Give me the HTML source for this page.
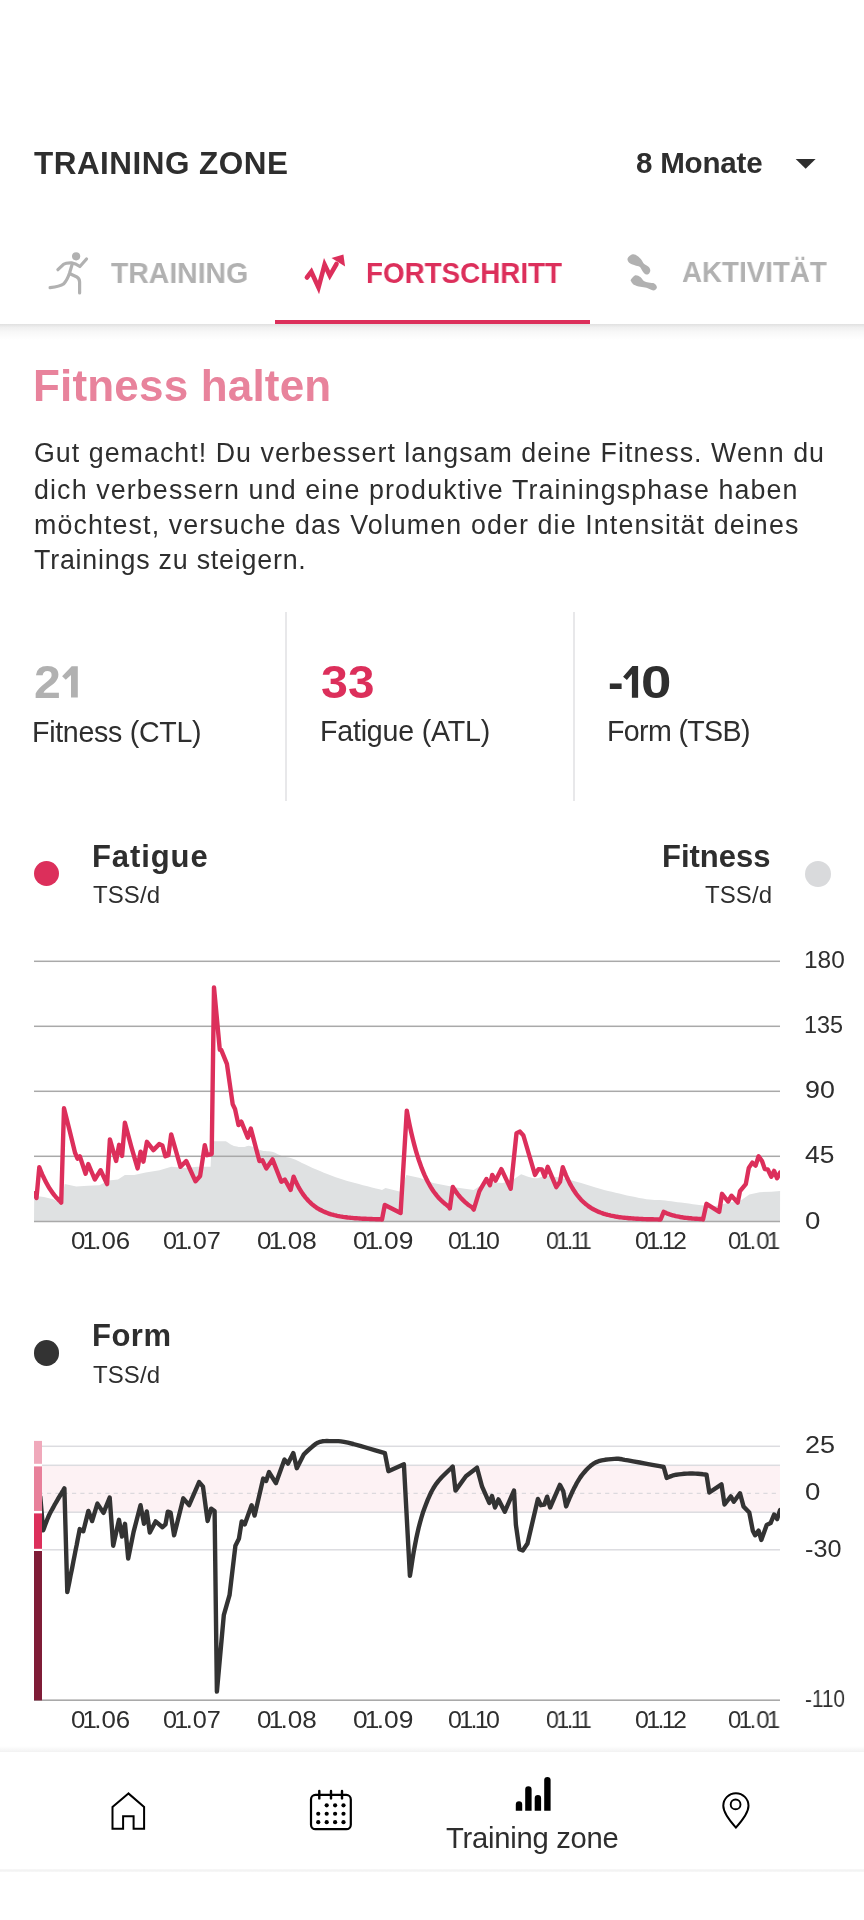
<!DOCTYPE html>
<html><head><meta charset="utf-8"><style>
html,body{margin:0;padding:0;background:#fff;}
body{width:864px;height:1920px;position:relative;overflow:hidden;font-family:"Liberation Sans",sans-serif;}
.t{position:absolute;white-space:nowrap;line-height:1;will-change:transform;}
svg{position:absolute;left:0;top:0;}
</style></head><body>
<div class="t" style="left:34.3px;top:148.4px;font-size:31.45px;letter-spacing:0.49px;font-weight:bold;color:#2e2e2e;">TRAINING ZONE</div>
<div class="t" style="left:636.4px;top:148.1px;font-size:29.57px;letter-spacing:-0.22px;font-weight:bold;color:#2e2e2e;">8 Monate</div>
<div class="t" style="left:111.41px;top:257.83px;font-size:29.5px;font-weight:bold;color:#b1b1b1;transform:scaleX(0.9616);transform-origin:0 0">TRAINING</div>
<div class="t" style="left:366.41px;top:257.53px;font-size:29.5px;font-weight:bold;color:#dc2f5b;transform:scaleX(0.9420);transform-origin:0 0">FORTSCHRITT</div>
<div class="t" style="left:682.41px;top:257.03px;font-size:29.5px;font-weight:bold;color:#b1b1b1;transform:scaleX(0.9400);transform-origin:0 0">AKTIVITÄT</div>
<div class="t" style="left:33.06px;top:363.754px;font-size:44px;letter-spacing:0.18px;font-weight:bold;color:#e8839c;">Fitness halten</div>
<div class="t" style="left:34px;top:439.9px;font-size:26.8px;letter-spacing:1.03px;color:#2e2e2e">Gut gemacht! Du verbessert langsam deine Fitness. Wenn du</div>
<div class="t" style="left:34px;top:476.7px;font-size:26.8px;letter-spacing:1.125px;color:#2e2e2e">dich verbessern und eine produktive Trainingsphase haben</div>
<div class="t" style="left:34px;top:512.1px;font-size:26.8px;letter-spacing:1.12px;color:#2e2e2e">möchtest, versuche das Volumen oder die Intensität deines</div>
<div class="t" style="left:34px;top:546.7px;font-size:26.8px;letter-spacing:0.79px;color:#2e2e2e">Trainings zu steigern.</div>
<div class="t" style="left:33.75px;top:658.52px;font-size:46.4px;font-weight:bold;color:#b1b1b1;transform:scaleX(1.040);transform-origin:0 0">2</div>
<div class="t" style="left:320.93px;top:658.62px;font-size:46.4px;font-weight:bold;color:#dc2f5b;transform:scaleX(1.043);transform-origin:0 0">3</div>
<div class="t" style="left:348.45px;top:658.62px;font-size:46.4px;font-weight:bold;color:#dc2f5b;transform:scaleX(1.026);transform-origin:0 0">3</div>
<div class="t" style="left:608.20px;top:658.72px;font-size:46.4px;font-weight:bold;color:#2e2e2e;transform:scaleX(0.970);transform-origin:0 0">-</div>
<div class="t" style="left:640.61px;top:658.72px;font-size:46.4px;font-weight:bold;color:#2e2e2e;transform:scaleX(1.180);transform-origin:0 0">0</div>
<svg width="864" height="1920" viewBox="0 0 864 1920" style="position:absolute;left:0;top:0"><polygon points="71.7,666.25 77.8,666.25 77.8,697.5 71,697.5 71,674.9 65.8,679.8 62.1,676.3" fill="#b1b1b1"/><polygon points="632.4,666 638.1,666 638.1,697.7 631.9,697.7 631.9,673.9 626.9,679.9 623.1,676.7" fill="#2e2e2e"/></svg>
<div class="t" style="left:32.312px;top:717.7901px;font-size:28.6px;letter-spacing:-0.3px;font-weight:normal;color:#2e2e2e;">Fitness (CTL)</div>
<div class="t" style="left:319.712px;top:717.3901000000001px;font-size:28.6px;letter-spacing:-0.2px;font-weight:normal;color:#2e2e2e;">Fatigue (ATL)</div>
<div class="t" style="left:607.412px;top:717.3901000000001px;font-size:28.6px;letter-spacing:-0.65px;font-weight:normal;color:#2e2e2e;">Form (TSB)</div>
<div style="position:absolute;left:285px;top:612px;width:2px;height:189px;background:#e8e8ea"></div>
<div style="position:absolute;left:573px;top:612px;width:2px;height:189px;background:#e8e8ea"></div>
<div style="position:absolute;left:33.5px;top:860.5px;width:25.5px;height:25.5px;border-radius:50%;background:#dc2f5b"></div>
<div class="t" style="left:91.63px;top:841.4585000000001px;font-size:31px;letter-spacing:0.9px;font-weight:bold;color:#2e2e2e;">Fatigue</div>
<div class="t" style="left:93.32px;top:883.4839999999999px;font-size:24px;letter-spacing:0.1px;font-weight:normal;color:#2e2e2e;">TSS/d</div>
<div style="position:absolute;left:804.5px;top:860.5px;width:26px;height:26px;border-radius:50%;background:#d9dadc"></div>
<div class="t" style="left:661.63px;top:841.1585px;font-size:31px;letter-spacing:0.0px;font-weight:bold;color:#2e2e2e;">Fitness</div>
<div class="t" style="left:704.52px;top:883.4839999999999px;font-size:24px;letter-spacing:0.1px;font-weight:normal;color:#2e2e2e;">TSS/d</div>
<div style="position:absolute;left:33.5px;top:1340px;width:25.5px;height:25.5px;border-radius:50%;background:#333"></div>
<div class="t" style="left:91.63px;top:1320.1585px;font-size:31px;letter-spacing:0.5px;font-weight:bold;color:#2e2e2e;">Form</div>
<div class="t" style="left:93.32px;top:1362.884px;font-size:24px;letter-spacing:0.1px;font-weight:normal;color:#2e2e2e;">TSS/d</div>
<svg width="864" height="1920" viewBox="0 0 864 1920"><defs><clipPath id="c1"><rect x="34" y="900" width="746" height="330"/></clipPath><clipPath id="c2"><rect x="42" y="1400" width="738" height="310"/></clipPath></defs>
<polygon points="34.0,1221.5 34.2,1195.7 43.9,1196.9 53.1,1199.2 61.2,1203.3 64.7,1184.1 76.3,1186.4 87.9,1185.7 99.4,1185.3 108.7,1180.6 118.0,1179.5 124.9,1174.9 134.2,1174.9 145.7,1172.5 159.6,1170.2 171.2,1166.8 187.4,1167.9 196.7,1166.8 210.6,1166.8 211.7,1141.3 225.8,1141.3 226.7,1141.8 227.9,1142.6 229.3,1143.5 230.8,1144.4 232.4,1145.3 233.9,1145.9 235.4,1146.3 237.0,1146.6 238.6,1146.9 240.2,1147.0 241.7,1147.1 243.1,1147.1 244.3,1147.0 245.4,1146.7 246.4,1146.3 247.5,1146.0 248.7,1145.8 250.1,1145.9 251.8,1146.4 253.7,1147.2 255.7,1148.1 257.8,1149.1 259.8,1150.0 261.7,1150.6 263.5,1151.0 265.3,1151.1 267.0,1151.2 268.7,1151.2 270.4,1151.4 272.1,1151.7 273.8,1152.3 275.6,1153.1 277.3,1153.9 279.0,1154.8 280.8,1155.6 282.5,1156.3 284.1,1156.7 285.6,1157.0 287.1,1157.2 288.7,1157.5 290.6,1157.9 292.9,1158.7 295.6,1159.8 298.7,1161.3 302.0,1162.9 305.4,1164.6 309.0,1166.3 312.6,1167.9 316.3,1169.5 320.0,1171.1 323.9,1172.7 327.9,1174.3 331.8,1175.8 335.7,1177.2 339.6,1178.5 343.4,1179.7 347.3,1180.9 351.2,1182.0 355.0,1183.0 358.9,1184.1 363.0,1185.2 367.5,1186.3 371.9,1187.4 376.0,1188.4 379.5,1189.3 382.0,1189.9 385.5,1188.1 400.6,1191.8 406.3,1174.9 420.0,1178.0 433.1,1183.0 456.3,1187.6 473.7,1189.9 486.4,1181.8 502.6,1183.0 511.9,1180.6 521.1,1174.2 522.6,1174.7 524.7,1175.5 527.2,1176.4 529.9,1177.3 532.5,1177.9 535.0,1178.3 537.2,1178.2 539.3,1177.8 541.4,1177.1 543.6,1176.5 546.1,1176.1 548.9,1176.0 552.2,1176.3 555.7,1176.9 559.6,1177.6 563.6,1178.5 567.8,1179.5 572.0,1180.6 576.4,1181.8 581.2,1183.1 586.0,1184.6 590.8,1186.1 595.6,1187.5 600.0,1188.8 604.1,1189.9 608.1,1190.9 611.9,1191.8 615.6,1192.8 619.3,1193.6 623.1,1194.5 627.0,1195.4 631.1,1196.3 635.1,1197.1 639.1,1197.9 642.8,1198.6 646.3,1199.2 649.4,1199.6 652.1,1199.8 654.7,1199.9 657.2,1200.0 659.7,1200.1 662.5,1200.3 665.4,1200.6 668.3,1201.0 671.3,1201.3 674.4,1201.7 677.6,1202.2 681.0,1202.6 684.7,1203.1 688.8,1203.6 693.0,1204.2 697.2,1204.8 701.0,1205.2 704.2,1205.6 706.9,1205.8 709.3,1206.0 711.4,1206.0 713.2,1206.1 714.6,1206.1 715.7,1206.1 729.6,1202.6 741.2,1200.3 749.3,1194.5 759.7,1192.2 771.3,1191.8 780.1,1191.1 780.0,1221.5" fill="#dfe1e2"/>
<rect x="34" y="960.55" width="746" height="1.5" fill="#a9a9a9"/>
<rect x="34" y="1025.55" width="746" height="1.5" fill="#a9a9a9"/>
<rect x="34" y="1090.55" width="746" height="1.5" fill="#a9a9a9"/>
<rect x="34" y="1155.55" width="746" height="1.5" fill="#a9a9a9"/>
<rect x="34" y="1220.75" width="746" height="1.5" fill="#a9a9a9"/>
<polyline clip-path="url(#c1)" points="34.2,1193.4 36.5,1198.0 39.3,1167.2 40.8,1171.0 42.3,1174.6 43.8,1177.8 45.3,1180.9 46.8,1183.7 48.3,1186.3 49.8,1188.8 51.3,1191.0 52.8,1193.1 54.3,1195.1 55.8,1196.9 57.3,1198.5 58.8,1200.1 60.3,1201.5 61.2,1202.6 64.0,1108.2 69.4,1129.7 75.1,1152.9 77.5,1158.7 79.8,1156.3 85.6,1173.7 88.3,1164.0 94.8,1179.5 100.6,1170.2 107.1,1184.1 109.9,1139.4 116.1,1161.0 119.1,1144.8 122.1,1155.9 124.9,1122.8 131.4,1147.1 137.6,1168.4 140.6,1151.7 143.4,1161.7 146.9,1141.8 153.4,1150.1 159.2,1144.1 162.4,1145.5 165.4,1156.3 168.4,1155.2 171.2,1134.4 180.5,1166.8 186.2,1161.0 195.5,1181.3 200.1,1176.0 204.8,1145.2 207.1,1155.2 211.7,1154.0 214.0,987.4 219.8,1049.9 221.2,1049.9 226.9,1063.8 232.7,1104.3 235.0,1108.9 238.5,1125.1 241.3,1121.6 247.8,1137.8 250.8,1128.6 259.4,1161.0 262.4,1160.3 266.3,1168.4 272.5,1159.4 281.3,1181.8 284.8,1179.5 290.6,1189.9 293.6,1176.7 295.1,1180.1 296.6,1183.3 298.1,1186.2 299.6,1188.9 301.1,1191.3 302.6,1193.6 304.1,1195.7 305.6,1197.6 307.1,1199.3 308.6,1201.0 310.1,1202.4 311.6,1203.8 313.1,1205.1 314.6,1206.2 316.1,1207.3 317.6,1208.3 319.1,1209.2 320.6,1210.0 322.1,1210.8 323.6,1211.5 325.1,1212.1 326.6,1212.7 328.1,1213.3 329.6,1213.8 331.1,1214.3 332.6,1214.7 334.1,1215.1 335.6,1215.4 337.1,1215.8 338.6,1216.1 340.1,1216.4 341.6,1216.6 343.1,1216.9 344.6,1217.1 346.1,1217.3 347.6,1217.5 349.1,1217.6 350.6,1217.8 352.1,1217.9 353.6,1218.1 355.1,1218.2 356.6,1218.3 358.1,1218.4 359.6,1218.5 361.1,1218.6 362.6,1218.7 364.1,1218.7 365.6,1218.8 367.1,1218.9 368.6,1218.9 370.1,1219.0 371.6,1219.0 373.1,1219.1 374.6,1219.1 376.1,1219.2 377.6,1219.2 379.1,1219.2 380.6,1219.3 382.0,1219.5 384.8,1205.0 400.6,1213.0 406.8,1110.7 408.3,1118.6 409.8,1125.9 411.3,1132.7 412.8,1139.0 414.3,1144.9 415.8,1150.3 417.3,1155.3 418.8,1160.0 420.3,1164.3 421.8,1168.4 423.3,1172.1 424.8,1175.6 426.3,1178.8 427.8,1181.8 429.3,1184.5 430.8,1187.1 432.3,1189.5 433.8,1191.7 435.3,1193.7 436.8,1195.6 438.3,1197.4 439.8,1199.0 441.3,1200.5 442.8,1201.9 444.3,1203.2 445.8,1204.4 447.3,1205.6 448.8,1206.6 449.8,1208.4 452.8,1186.9 454.3,1189.3 455.8,1191.5 457.3,1193.6 458.8,1195.5 460.3,1197.3 461.8,1198.9 463.3,1200.4 464.8,1201.8 466.3,1203.1 467.8,1204.4 469.3,1205.5 470.8,1206.5 472.3,1207.5 473.7,1209.6 479.4,1191.1 486.4,1179.0 489.9,1185.3 492.2,1174.9 495.6,1180.6 501.4,1169.1 510.7,1188.8 516.5,1133.2 520.0,1131.6 523.4,1135.5 535.0,1174.9 538.5,1169.1 541.9,1169.5 544.7,1176.7 547.7,1166.8 556.3,1187.1 560.0,1181.8 562.8,1167.2 564.3,1171.2 565.8,1174.9 567.3,1178.3 568.8,1181.4 570.3,1184.4 571.8,1187.0 573.3,1189.5 574.8,1191.8 576.3,1194.0 577.8,1195.9 579.3,1197.7 580.8,1199.4 582.3,1201.0 583.8,1202.4 585.3,1203.7 586.8,1204.9 588.3,1206.1 589.8,1207.1 591.3,1208.1 592.8,1209.0 594.3,1209.8 595.8,1210.5 597.3,1211.2 598.8,1211.9 600.3,1212.5 601.8,1213.0 603.3,1213.6 604.8,1214.0 606.3,1214.5 607.8,1214.9 609.3,1215.2 610.8,1215.6 612.3,1215.9 613.8,1216.2 615.3,1216.5 616.8,1216.7 618.3,1217.0 619.8,1217.2 621.3,1217.4 622.8,1217.6 624.3,1217.7 625.8,1217.9 627.3,1218.0 628.8,1218.2 630.3,1218.3 631.8,1218.4 633.3,1218.5 634.8,1218.6 636.3,1218.7 637.8,1218.8 639.3,1218.9 640.8,1218.9 642.3,1219.0 643.8,1219.1 645.3,1219.1 646.8,1219.2 648.3,1219.2 649.8,1219.3 651.3,1219.3 652.8,1219.3 654.3,1219.4 655.8,1219.4 657.3,1219.4 658.8,1219.5 660.6,1219.5 663.7,1211.9 665.2,1212.6 666.7,1213.3 668.2,1213.8 669.7,1214.4 671.2,1214.9 672.7,1215.3 674.2,1215.7 675.7,1216.1 677.2,1216.4 678.7,1216.7 680.2,1217.0 681.7,1217.2 683.2,1217.5 684.7,1217.7 686.2,1217.9 687.7,1218.0 689.2,1218.2 690.7,1218.3 692.2,1218.5 693.7,1218.6 695.2,1218.7 696.7,1218.8 698.2,1218.9 699.7,1219.0 701.2,1219.0 703.0,1219.5 706.5,1203.8 719.2,1211.9 722.0,1193.8 728.0,1201.5 731.5,1195.7 737.7,1202.6 740.0,1191.1 745.8,1184.1 748.8,1167.9 752.3,1162.6 755.6,1165.6 758.6,1156.3 762.0,1161.0 764.8,1169.1 767.8,1169.5 771.3,1176.7 774.1,1170.9 777.1,1178.3 780.1,1172.5" fill="none" stroke="#dc2f5b" stroke-width="4.4" stroke-linejoin="round" stroke-linecap="round"/>
<rect x="42" y="1465.3" width="738" height="47" fill="#fdf2f4"/>
<rect x="42" y="1445.55" width="738" height="1.5" fill="#dcdce0"/>
<rect x="42" y="1464.55" width="738" height="1.5" fill="#dcdce0"/>
<rect x="42" y="1511.45" width="738" height="1.5" fill="#dcdce0"/>
<rect x="42" y="1549.05" width="738" height="1.5" fill="#dcdce0"/>
<line x1="42" y1="1493.4" x2="780" y2="1493.4" stroke="#dcd9dd" stroke-width="1.4" stroke-dasharray="4.2,4.13" stroke-dashoffset="3.33"/>
<rect x="34" y="1699.4" width="746" height="1.6" fill="#a9a9a9"/>
<rect x="34" y="1440.9" width="8" height="22.9" fill="#f0a9bb"/>
<rect x="34" y="1466.4" width="8" height="44.5" fill="#e8809a"/>
<rect x="34" y="1513.4" width="8" height="35.4" fill="#dc2f5b"/>
<rect x="34" y="1551" width="8" height="149.4" fill="#7f1c37"/>
<polyline clip-path="url(#c2)" points="40.3,1497.0 43.2,1530.3 43.8,1528.8 44.6,1526.6 45.5,1524.1 46.5,1521.4 47.5,1518.8 48.5,1516.5 49.4,1514.5 50.3,1512.7 51.2,1511.0 52.2,1509.3 53.1,1507.7 54.0,1506.0 54.9,1504.3 55.9,1502.7 56.8,1501.1 57.7,1499.5 58.6,1498.0 59.5,1496.5 60.4,1495.0 61.4,1493.4 62.3,1491.8 63.2,1490.4 63.9,1489.2 64.4,1488.3 67.3,1592.1 68.1,1588.0 69.3,1582.2 70.6,1575.4 72.1,1568.2 73.4,1561.3 74.6,1555.4 75.6,1550.1 76.7,1544.9 77.6,1540.0 78.5,1535.5 79.2,1531.8 79.7,1529.1 83.3,1531.3 88.4,1510.9 92.1,1521.1 97.4,1503.6 103.5,1512.9 109.7,1497.6 113.2,1545.7 119.0,1519.8 122.0,1536.5 125.0,1523.8 128.2,1558.5 133.6,1531.9 140.5,1505.2 144.0,1523.8 146.8,1511.5 149.8,1532.5 155.6,1521.4 162.5,1527.2 165.5,1524.4 167.8,1511.7 170.6,1512.6 174.1,1535.3 183.3,1498.3 189.1,1505.2 199.1,1482.1 203.0,1486.7 207.6,1521.0 211.1,1508.7 214.6,1511.0 216.9,1691.6 223.8,1615.2 229.6,1594.8 235.4,1545.7 238.9,1538.8 241.7,1521.4 244.7,1524.4 251.6,1505.2 254.6,1515.6 263.2,1478.6 266.2,1480.9 269.0,1472.1 275.9,1483.2 284.5,1459.6 288.0,1463.6 293.3,1453.1 296.8,1468.2 303.9,1454.3 305.4,1452.9 307.5,1450.9 310.0,1448.6 312.7,1446.3 315.3,1444.2 317.8,1442.7 320.1,1441.8 322.3,1441.3 324.6,1441.1 326.9,1441.0 329.3,1441.1 331.7,1441.1 334.0,1441.1 336.2,1441.1 338.4,1441.1 340.9,1441.4 344.0,1441.9 347.9,1442.7 353.3,1444.0 360.1,1445.9 367.4,1448.0 374.5,1450.1 380.6,1451.9 384.9,1453.1 388.4,1471.2 403.9,1464.3 409.9,1575.8 410.6,1571.7 411.5,1566.0 412.5,1559.2 413.7,1552.0 415.0,1545.0 416.2,1538.8 417.4,1533.3 418.6,1528.0 419.9,1523.0 421.3,1518.0 422.7,1513.3 424.3,1508.7 426.0,1504.2 427.7,1499.9 429.5,1495.8 431.4,1491.8 433.5,1488.0 435.8,1484.4 438.5,1480.9 441.7,1477.3 445.0,1474.0 448.1,1471.0 450.8,1468.5 452.7,1466.6 455.5,1490.6 465.9,1476.3 477.0,1467.7 482.1,1486.7 489.3,1502.9 492.0,1496.0 495.0,1507.5 498.5,1499.4 504.8,1511.7 514.0,1490.6 515.9,1524.9 519.4,1549.2 522.8,1550.4 527.5,1543.4 537.9,1499.0 540.9,1505.2 544.4,1504.5 547.1,1496.7 550.1,1507.5 559.9,1484.9 563.3,1491.3 566.1,1506.4 566.8,1504.8 567.7,1502.5 568.8,1499.9 570.0,1497.0 571.3,1494.1 572.6,1491.3 573.9,1488.6 575.3,1485.9 576.8,1483.0 578.4,1480.3 580.1,1477.6 581.9,1475.1 583.9,1472.7 586.0,1470.3 588.2,1468.0 590.6,1465.8 593.1,1463.9 595.7,1462.4 598.6,1461.2 601.7,1460.4 605.0,1459.8 608.3,1459.4 611.4,1459.1 614.3,1458.9 616.6,1458.8 618.4,1458.8 620.1,1459.0 622.1,1459.3 624.6,1459.8 628.1,1460.4 633.2,1461.3 639.7,1462.5 646.8,1463.8 653.7,1465.1 659.6,1466.2 663.7,1467.0 666.7,1477.9 667.7,1477.5 669.0,1477.0 670.5,1476.4 672.3,1475.7 674.3,1475.2 676.4,1474.7 678.8,1474.4 681.4,1474.1 684.2,1473.8 687.1,1473.6 690.0,1473.5 692.6,1473.5 695.2,1473.6 697.9,1473.8 700.6,1474.0 703.0,1474.3 705.0,1474.5 706.5,1474.7 709.3,1492.5 721.5,1484.4 724.5,1504.5 730.8,1496.4 733.8,1501.8 740.0,1493.2 743.5,1506.4 749.3,1512.6 752.8,1530.7 755.1,1535.3 758.6,1530.7 761.3,1540.0 766.7,1524.9 770.6,1523.1 774.1,1514.5 777.1,1519.1 780.1,1509.9" fill="none" stroke="#333" stroke-width="4.4" stroke-linejoin="round" stroke-linecap="round"/>
</svg>
<div class="t" style="left:803.80px;top:949.39px;font-size:23.4px;transform:scaleX(1.0452);transform-origin:0 0;color:#2e2e2e">180</div>
<div class="t" style="left:803.80px;top:1014.39px;font-size:23.4px;transform:scaleX(0.9916);transform-origin:0 0;color:#2e2e2e">135</div>
<div class="t" style="left:805.40px;top:1079.39px;font-size:23.4px;transform:scaleX(1.1461);transform-origin:0 0;color:#2e2e2e">90</div>
<div class="t" style="left:804.80px;top:1144.39px;font-size:23.4px;transform:scaleX(1.1263);transform-origin:0 0;color:#2e2e2e">45</div>
<div class="t" style="left:805.40px;top:1209.59px;font-size:23.4px;transform:scaleX(1.1818);transform-origin:0 0;color:#2e2e2e">0</div>
<div class="t" style="left:804.80px;top:1434.39px;font-size:23.4px;transform:scaleX(1.1542);transform-origin:0 0;color:#2e2e2e">25</div>
<div class="t" style="left:805.40px;top:1481.39px;font-size:23.4px;transform:scaleX(1.1818);transform-origin:0 0;color:#2e2e2e">0</div>
<div class="t" style="left:804.80px;top:1537.89px;font-size:23.4px;transform:scaleX(1.0783);transform-origin:0 0;color:#2e2e2e">-30</div>
<div class="t" style="left:804.80px;top:1688.09px;font-size:23.4px;transform:scaleX(0.8885);transform-origin:0 0;color:#2e2e2e">-110</div>
<div class="t" style="left:71.03px;top:1228.7px;font-size:24.2px;transform:scaleX(1.0698);transform-origin:0 0;color:#2e2e2e">0<span style="margin:0 -2.6px">1</span>.06</div>
<div class="t" style="left:162.83px;top:1228.7px;font-size:24.2px;transform:scaleX(1.0453);transform-origin:0 0;color:#2e2e2e">0<span style="margin:0 -2.6px">1</span>.07</div>
<div class="t" style="left:257.03px;top:1228.7px;font-size:24.2px;transform:scaleX(1.0793);transform-origin:0 0;color:#2e2e2e">0<span style="margin:0 -2.6px">1</span>.08</div>
<div class="t" style="left:353.03px;top:1228.7px;font-size:24.2px;transform:scaleX(1.0898);transform-origin:0 0;color:#2e2e2e">0<span style="margin:0 -2.6px">1</span>.09</div>
<div class="t" style="left:448.03px;top:1228.7px;font-size:24.2px;transform:scaleX(1.0335);transform-origin:0 0;color:#2e2e2e">0<span style="margin:0 -2.6px">1</span>.<span style="margin:0 -2.6px">1</span>0</div>
<div class="t" style="left:546.43px;top:1228.7px;font-size:24.2px;transform:scaleX(0.9589);transform-origin:0 0;color:#2e2e2e">0<span style="margin:0 -2.6px">1</span>.<span style="margin:0 -2.6px">1</span><span style="margin:0 -2.6px">1</span></div>
<div class="t" style="left:635.23px;top:1228.7px;font-size:24.2px;transform:scaleX(1.0334);transform-origin:0 0;color:#2e2e2e">0<span style="margin:0 -2.6px">1</span>.<span style="margin:0 -2.6px">1</span>2</div>
<div class="t" style="left:727.83px;top:1228.7px;font-size:24.2px;transform:scaleX(0.9903);transform-origin:0 0;color:#2e2e2e">0<span style="margin:0 -2.6px">1</span>.0<span style="margin:0 -2.6px">1</span></div>
<div class="t" style="left:71.03px;top:1708.0px;font-size:24.2px;transform:scaleX(1.0698);transform-origin:0 0;color:#2e2e2e">0<span style="margin:0 -2.6px">1</span>.06</div>
<div class="t" style="left:162.83px;top:1708.0px;font-size:24.2px;transform:scaleX(1.0453);transform-origin:0 0;color:#2e2e2e">0<span style="margin:0 -2.6px">1</span>.07</div>
<div class="t" style="left:257.03px;top:1708.0px;font-size:24.2px;transform:scaleX(1.0793);transform-origin:0 0;color:#2e2e2e">0<span style="margin:0 -2.6px">1</span>.08</div>
<div class="t" style="left:353.03px;top:1708.0px;font-size:24.2px;transform:scaleX(1.0898);transform-origin:0 0;color:#2e2e2e">0<span style="margin:0 -2.6px">1</span>.09</div>
<div class="t" style="left:448.03px;top:1708.0px;font-size:24.2px;transform:scaleX(1.0335);transform-origin:0 0;color:#2e2e2e">0<span style="margin:0 -2.6px">1</span>.<span style="margin:0 -2.6px">1</span>0</div>
<div class="t" style="left:546.43px;top:1708.0px;font-size:24.2px;transform:scaleX(0.9589);transform-origin:0 0;color:#2e2e2e">0<span style="margin:0 -2.6px">1</span>.<span style="margin:0 -2.6px">1</span><span style="margin:0 -2.6px">1</span></div>
<div class="t" style="left:635.23px;top:1708.0px;font-size:24.2px;transform:scaleX(1.0334);transform-origin:0 0;color:#2e2e2e">0<span style="margin:0 -2.6px">1</span>.<span style="margin:0 -2.6px">1</span>2</div>
<div class="t" style="left:727.83px;top:1708.0px;font-size:24.2px;transform:scaleX(0.9903);transform-origin:0 0;color:#2e2e2e">0<span style="margin:0 -2.6px">1</span>.0<span style="margin:0 -2.6px">1</span></div>
<svg width="864" height="1920" viewBox="0 0 864 1920">
<polygon points="795.7,159 815.6,159 805.65,168.8" fill="#2e2e2e"/>
<g fill="none" stroke="#b1b1b1" stroke-width="3.2" stroke-linecap="round" stroke-linejoin="round"><path d="M57.9,269.7 L63.5,264.3 Q66,262.6 71.5,262.8 Q75.5,263.2 79.9,266.5 L86.5,259"/><path d="M72.4,263.5 L69.5,273.2 Q67,280.5 63.5,284 Q60,286.5 50.1,287.7"/><path d="M70,273.8 L76.4,276.7 Q79.6,278.5 79.6,282 L79.6,292.9"/></g>
<circle cx="76.1" cy="256.3" r="4.1" fill="#b1b1b1"/>
<polyline points="306.9,277.5 311.3,271.7 318.5,287.5 324.6,264.6 329.8,275.6 336.5,264" fill="none" stroke="#dc2f5b" stroke-width="4.6" stroke-linecap="round" stroke-linejoin="miter" stroke-miterlimit="6"/>
<polygon points="331.5,258.1 343.4,254.4 345.1,266.5" fill="#dc2f5b"/>
<g fill="#b1b1b1"><path d="M627.64,258.18 C628.23,256.78 631.03,254.70 632.73,254.36 C634.43,254.03 636.38,255.26 637.82,256.15 C639.26,257.04 640.37,258.44 641.38,259.71 C642.40,260.98 642.74,262.60 643.93,263.78 C645.12,264.97 647.45,265.74 648.51,266.84 C649.57,267.94 650.30,269.22 650.30,270.40 C650.30,271.59 649.32,273.33 648.51,273.97 C647.71,274.60 646.48,274.73 645.46,274.22 C644.44,273.71 643.38,272.14 642.40,270.91 C641.43,269.68 640.88,267.77 639.60,266.84 C638.33,265.91 636.51,265.99 634.77,265.31 C633.03,264.63 630.35,263.95 629.16,262.77 C627.98,261.58 627.04,259.58 627.64,258.18 Z"/><path d="M630.95,279.57 C631.63,278.51 633.71,275.66 635.27,275.24 C636.84,274.82 638.92,276.05 640.37,277.02 C641.81,278.00 642.57,280.16 643.93,281.10 C645.29,282.03 646.73,282.20 648.51,282.62 C650.30,283.05 653.22,282.88 654.62,283.64 C656.02,284.41 656.91,286.10 656.91,287.21 C656.91,288.31 655.60,289.84 654.62,290.26 C653.65,290.68 652.42,290.18 651.06,289.75 C649.70,289.33 648.26,288.22 646.48,287.71 C644.69,287.21 642.49,287.21 640.37,286.70 C638.25,286.19 635.27,285.51 633.75,284.66 C632.22,283.81 631.67,282.45 631.20,281.60 C630.73,280.76 630.27,280.63 630.95,279.57 Z"/></g>
</svg>
<div style="position:absolute;left:0;top:323.5px;width:864px;height:16px;background:linear-gradient(#e0e0e0,#efefef 20%,#f8f8f8 50%,#fff)"></div>
<div style="position:absolute;left:274.5px;top:319.5px;width:315.5px;height:4px;background:#dc2f5b"></div>
<div style="position:absolute;left:0;top:1746px;width:864px;height:6px;background:linear-gradient(#fff,#f2f2f2)"></div>
<div style="position:absolute;left:0;top:1869px;width:864px;height:3px;background:linear-gradient(#f8f8f8,#f3f3f3,#f8f8f8)"></div>
<svg width="864" height="1920" viewBox="0 0 864 1920">
<path d="M128.4,1793.4 L112.5,1807 L112.5,1828.7 L123.1,1828.7 L123.1,1816.25 L133.6,1816.25 L133.6,1828.7 L144.1,1828.7 L144.1,1807 Z" fill="none" stroke="#000" stroke-width="2" stroke-linejoin="miter"/>
<rect x="311" y="1794.9" width="39.8" height="34.3" rx="4.5" fill="none" stroke="#000" stroke-width="2.2"/>
<line x1="319.3" y1="1791" x2="319.3" y2="1798.4" stroke="#000" stroke-width="2.4" stroke-linecap="round"/>
<line x1="331" y1="1791" x2="331" y2="1798.4" stroke="#000" stroke-width="2.4" stroke-linecap="round"/>
<line x1="342" y1="1791" x2="342" y2="1798.4" stroke="#000" stroke-width="2.4" stroke-linecap="round"/>
<circle cx="326.7" cy="1805.3" r="2.1" fill="#000"/>
<circle cx="335.1" cy="1805.3" r="2.1" fill="#000"/>
<circle cx="343.5" cy="1805.3" r="2.1" fill="#000"/>
<circle cx="318.25" cy="1813.75" r="2.1" fill="#000"/>
<circle cx="326.7" cy="1813.75" r="2.1" fill="#000"/>
<circle cx="335.1" cy="1813.75" r="2.1" fill="#000"/>
<circle cx="343.5" cy="1813.75" r="2.1" fill="#000"/>
<circle cx="318.25" cy="1822.2" r="2.1" fill="#000"/>
<circle cx="326.7" cy="1822.2" r="2.1" fill="#000"/>
<circle cx="335.1" cy="1822.2" r="2.1" fill="#000"/>
<circle cx="343.5" cy="1822.2" r="2.1" fill="#000"/>
<path d="M515.8,1810.7 L515.8,1804.4 A3.2,3.2 0 0 1 522.1999999999999,1804.4 L522.1999999999999,1810.7 Z" fill="#000"/>
<path d="M525.2,1810.7 L525.2,1789.4 A3.2,3.2 0 0 1 531.6,1789.4 L531.6,1810.7 Z" fill="#000"/>
<path d="M534.7,1810.7 L534.7,1798.2 A3.2,3.2 0 0 1 541.1,1798.2 L541.1,1810.7 Z" fill="#000"/>
<path d="M544.2,1810.7 L544.2,1780.1000000000001 A3.2,3.2 0 0 1 550.6,1780.1000000000001 L550.6,1810.7 Z" fill="#000"/>
<path d="M735.9,1827.6 C729,1820 723.3,1813 723.3,1805.8 A12.6,12.6 0 0 1 748.5,1805.8 C748.5,1813 742.8,1820 735.9,1827.6 Z" fill="none" stroke="#000" stroke-width="2"/>
<circle cx="735.6" cy="1804.4" r="4.9" fill="none" stroke="#000" stroke-width="1.9"/>
</svg>
<div class="t" style="left:446.4px;top:1824.3px;font-size:29.2px;letter-spacing:-0.25px;font-weight:normal;color:#2e2e2e;">Training zone</div>
</body></html>
